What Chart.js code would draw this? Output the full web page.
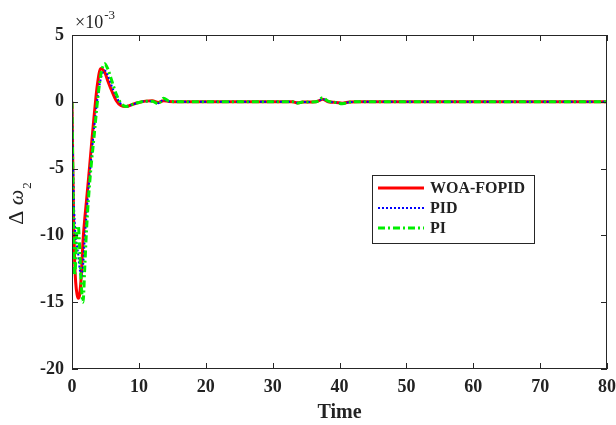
<!DOCTYPE html>
<html lang="en">
<head>
<meta charset="utf-8">
<title>Delta omega 2 response</title>
<script src="https://cdn.jsdelivr.net/npm/chart.js"></script>
<style>
  body { margin: 0; background: #fff; }
</style>
</head>
<body>
<canvas id="chart" width="616" height="425"></canvas>
<script>
// values in units of 1e-3
const time = [0, 0.1, 0.25, 0.4, 0.55, 0.75, 0.95, 1.15, 1.4, 1.65, 1.9, 2.15, 2.5, 2.9, 3.3, 3.8, 4.3, 4.9, 5.4, 6, 6.6, 7.3, 8.1, 9, 10, 11, 12, 12.9, 13.7, 14.5, 16, 20, 30, 33, 33.7, 34.5, 36.5, 37.5, 38.3, 39.5, 40.4, 41.5, 43, 50, 60, 70, 80];
const woaFopid = [0, -4, -9, -12, -13.5, -14.4, -14.7, -14.4, -12.9, -10.4, -8.8, -7.5, -5.6, -3.3, -1.1, 1.3, 2.5, 2.2, 1.5, 0.75, 0.1, -0.28, -0.36, -0.2, -0.05, 0.05, 0.08, -0.05, 0.08, 0.02, 0, 0, 0, 0, -0.08, -0.02, 0, 0.2, 0, -0.05, -0.1, -0.02, 0, 0, 0, 0, 0];
const pid = [0, -3, -7, -9, -10.2, -10.8, -11.5, -12.5, -13.1, -12.3, -10.3, -8.6, -6.3, -4.1, -2, 0.2, 1.7, 2.35, 1.9, 1.1, 0.4, -0.15, -0.35, -0.22, -0.05, 0.05, 0.05, -0.1, 0.15, 0.03, 0, 0, 0, 0, -0.08, -0.02, 0, 0.2, 0.02, -0.05, -0.1, -0.02, 0, 0, 0, 0, 0];
const pi = [0, -4.5, -10.5, -13, -12, -9.5, -9.3, -11, -13.8, -15, -12.5, -9.8, -7, -4.6, -2.6, 0, 2.0, 2.85, 2.4, 1.5, 0.6, -0.1, -0.35, -0.2, -0.05, 0.05, 0.05, -0.16, 0.26, 0.05, 0, 0, 0, 0, -0.1, -0.02, 0, 0.3, 0.05, -0.05, -0.15, -0.03, 0, 0, 0, 0, 0];
const seriesNames = ['WOA-FOPID', 'PID', 'PI'];
const xTicks = [0, 10, 20, 30, 40, 50, 60, 70, 80];
const yTicks = [-20, -15, -10, -5, 0, 5];

const serif = "'Liberation Serif', 'Times New Roman', serif";
const toPoints = vals => vals.map((v, i) => ({ x: time[i], y: v }));

const styles = [
  { color: '#ff0000', width: 3, dash: [] },
  { color: '#0000ff', width: 2, dash: [2, 2] },
  { color: '#00ee00', width: 3, dash: [7, 3, 2, 3] }
];

// box, inward ticks, exponent, y title and legend
const decorations = {
  id: 'decorations',
  afterDraw(chart) {
    const { ctx, chartArea: a, scales: { x, y } } = chart;
    ctx.save();
    ctx.strokeStyle = '#262626';
    ctx.lineWidth = 1;
    ctx.setLineDash([]);
    ctx.strokeRect(a.left + 0.5, a.top + 0.5, a.right - a.left - 1, a.bottom - a.top - 1);
    const len = 6;
    ctx.beginPath();
    xTicks.forEach(v => {
      const px = Math.round(x.getPixelForValue(v)) + 0.5;
      ctx.moveTo(px, a.bottom); ctx.lineTo(px, a.bottom - len);
      ctx.moveTo(px, a.top); ctx.lineTo(px, a.top + len);
    });
    yTicks.forEach(v => {
      const py = Math.round(y.getPixelForValue(v)) + 0.5;
      ctx.moveTo(a.left, py); ctx.lineTo(a.left + len, py);
      ctx.moveTo(a.right, py); ctx.lineTo(a.right - len, py);
    });
    ctx.stroke();

    // exponent label
    ctx.fillStyle = '#222';
    ctx.textBaseline = 'alphabetic';
    ctx.textAlign = 'left';
    ctx.font = '18px ' + serif;
    ctx.fillText('\u00d710', a.left + 3, 28);
    const w = ctx.measureText('\u00d710').width;
    ctx.font = '13px ' + serif;
    ctx.fillText('-3', a.left + 3 + w + 1, 19);

    // y axis title: Δ ω with subscript 2
    ctx.save();
    ctx.translate(23, 204);
    ctx.rotate(-Math.PI / 2);
    ctx.font = '22px ' + serif;
    const dw = ctx.measureText('\u0394 ').width;
    ctx.font = 'italic 22px ' + serif;
    const ow = ctx.measureText('\u03c9').width;
    ctx.font = '13px ' + serif;
    const sw = ctx.measureText('2').width;
    const start = -(dw + ow + sw) / 2;
    ctx.font = '22px ' + serif;
    ctx.fillText('\u0394 ', start, 0);
    ctx.font = 'italic 22px ' + serif;
    ctx.fillText('\u03c9', start + dw, 0);
    ctx.font = '13px ' + serif;
    ctx.fillText('2', start + dw + ow + 1, 8);
    ctx.restore();

    // legend
    const box = { left: 372, top: 175, right: 534, bottom: 243 };
    ctx.fillStyle = '#fff';
    ctx.fillRect(box.left, box.top, box.right - box.left, box.bottom - box.top);
    ctx.strokeStyle = '#262626';
    ctx.lineWidth = 1;
    ctx.strokeRect(box.left + 0.5, box.top + 0.5, box.right - box.left, box.bottom - box.top);
    const rows = [188, 208, 228];
    seriesNames.forEach((name, i) => {
      const s = styles[i];
      ctx.strokeStyle = s.color;
      ctx.lineWidth = s.width;
      ctx.setLineDash(s.dash);
      ctx.beginPath();
      ctx.moveTo(378, rows[i]);
      ctx.lineTo(424, rows[i]);
      ctx.stroke();
      ctx.setLineDash([]);
      ctx.fillStyle = '#222';
      ctx.font = 'bold 16px ' + serif;
      ctx.textBaseline = 'middle';
      ctx.fillText(name, 430, rows[i] + 1);
    });
    ctx.restore();
  }
};

new Chart(document.getElementById('chart'), {
  type: 'line',
  data: {
    datasets: [woaFopid, pid, pi].map((vals, i) => ({
      label: seriesNames[i],
      data: toPoints(vals),
      borderColor: styles[i].color,
      borderWidth: styles[i].width,
      borderDash: styles[i].dash,
      pointRadius: 0,
      cubicInterpolationMode: 'monotone',
      fill: false,
      order: 3 - i
    }))
  },
  options: {
    responsive: false,
    animation: false,
    layout: { padding: { top: 35, right: 7, left: 0, bottom: 0 } },
    plugins: { legend: { display: false }, tooltip: { enabled: false } },
    scales: {
      x: {
        type: 'linear',
        min: 0,
        max: 80,
        afterFit: s => { s.height = 56; },
        afterBuildTicks: s => { s.ticks = xTicks.map(v => ({ value: v })); },
        grid: { display: false },
        border: { display: false },
        ticks: { color: '#222', padding: 0, maxRotation: 0, font: { family: serif, size: 18, weight: 'bold' } },
        title: { display: true, text: 'Time', color: '#222', padding: { top: 3, bottom: 0 }, font: { family: serif, size: 20, weight: 'bold' } }
      },
      y: {
        min: -20,
        max: 5,
        afterFit: s => { s.width = 72; },
        afterBuildTicks: s => { s.ticks = yTicks.map(v => ({ value: v })); },
        grid: { display: false },
        border: { display: false },
        ticks: { color: '#222', padding: 0, font: { family: serif, size: 18, weight: 'bold' } }
      }
    }
  },
  plugins: [decorations]
});
</script>
</body>
</html>
